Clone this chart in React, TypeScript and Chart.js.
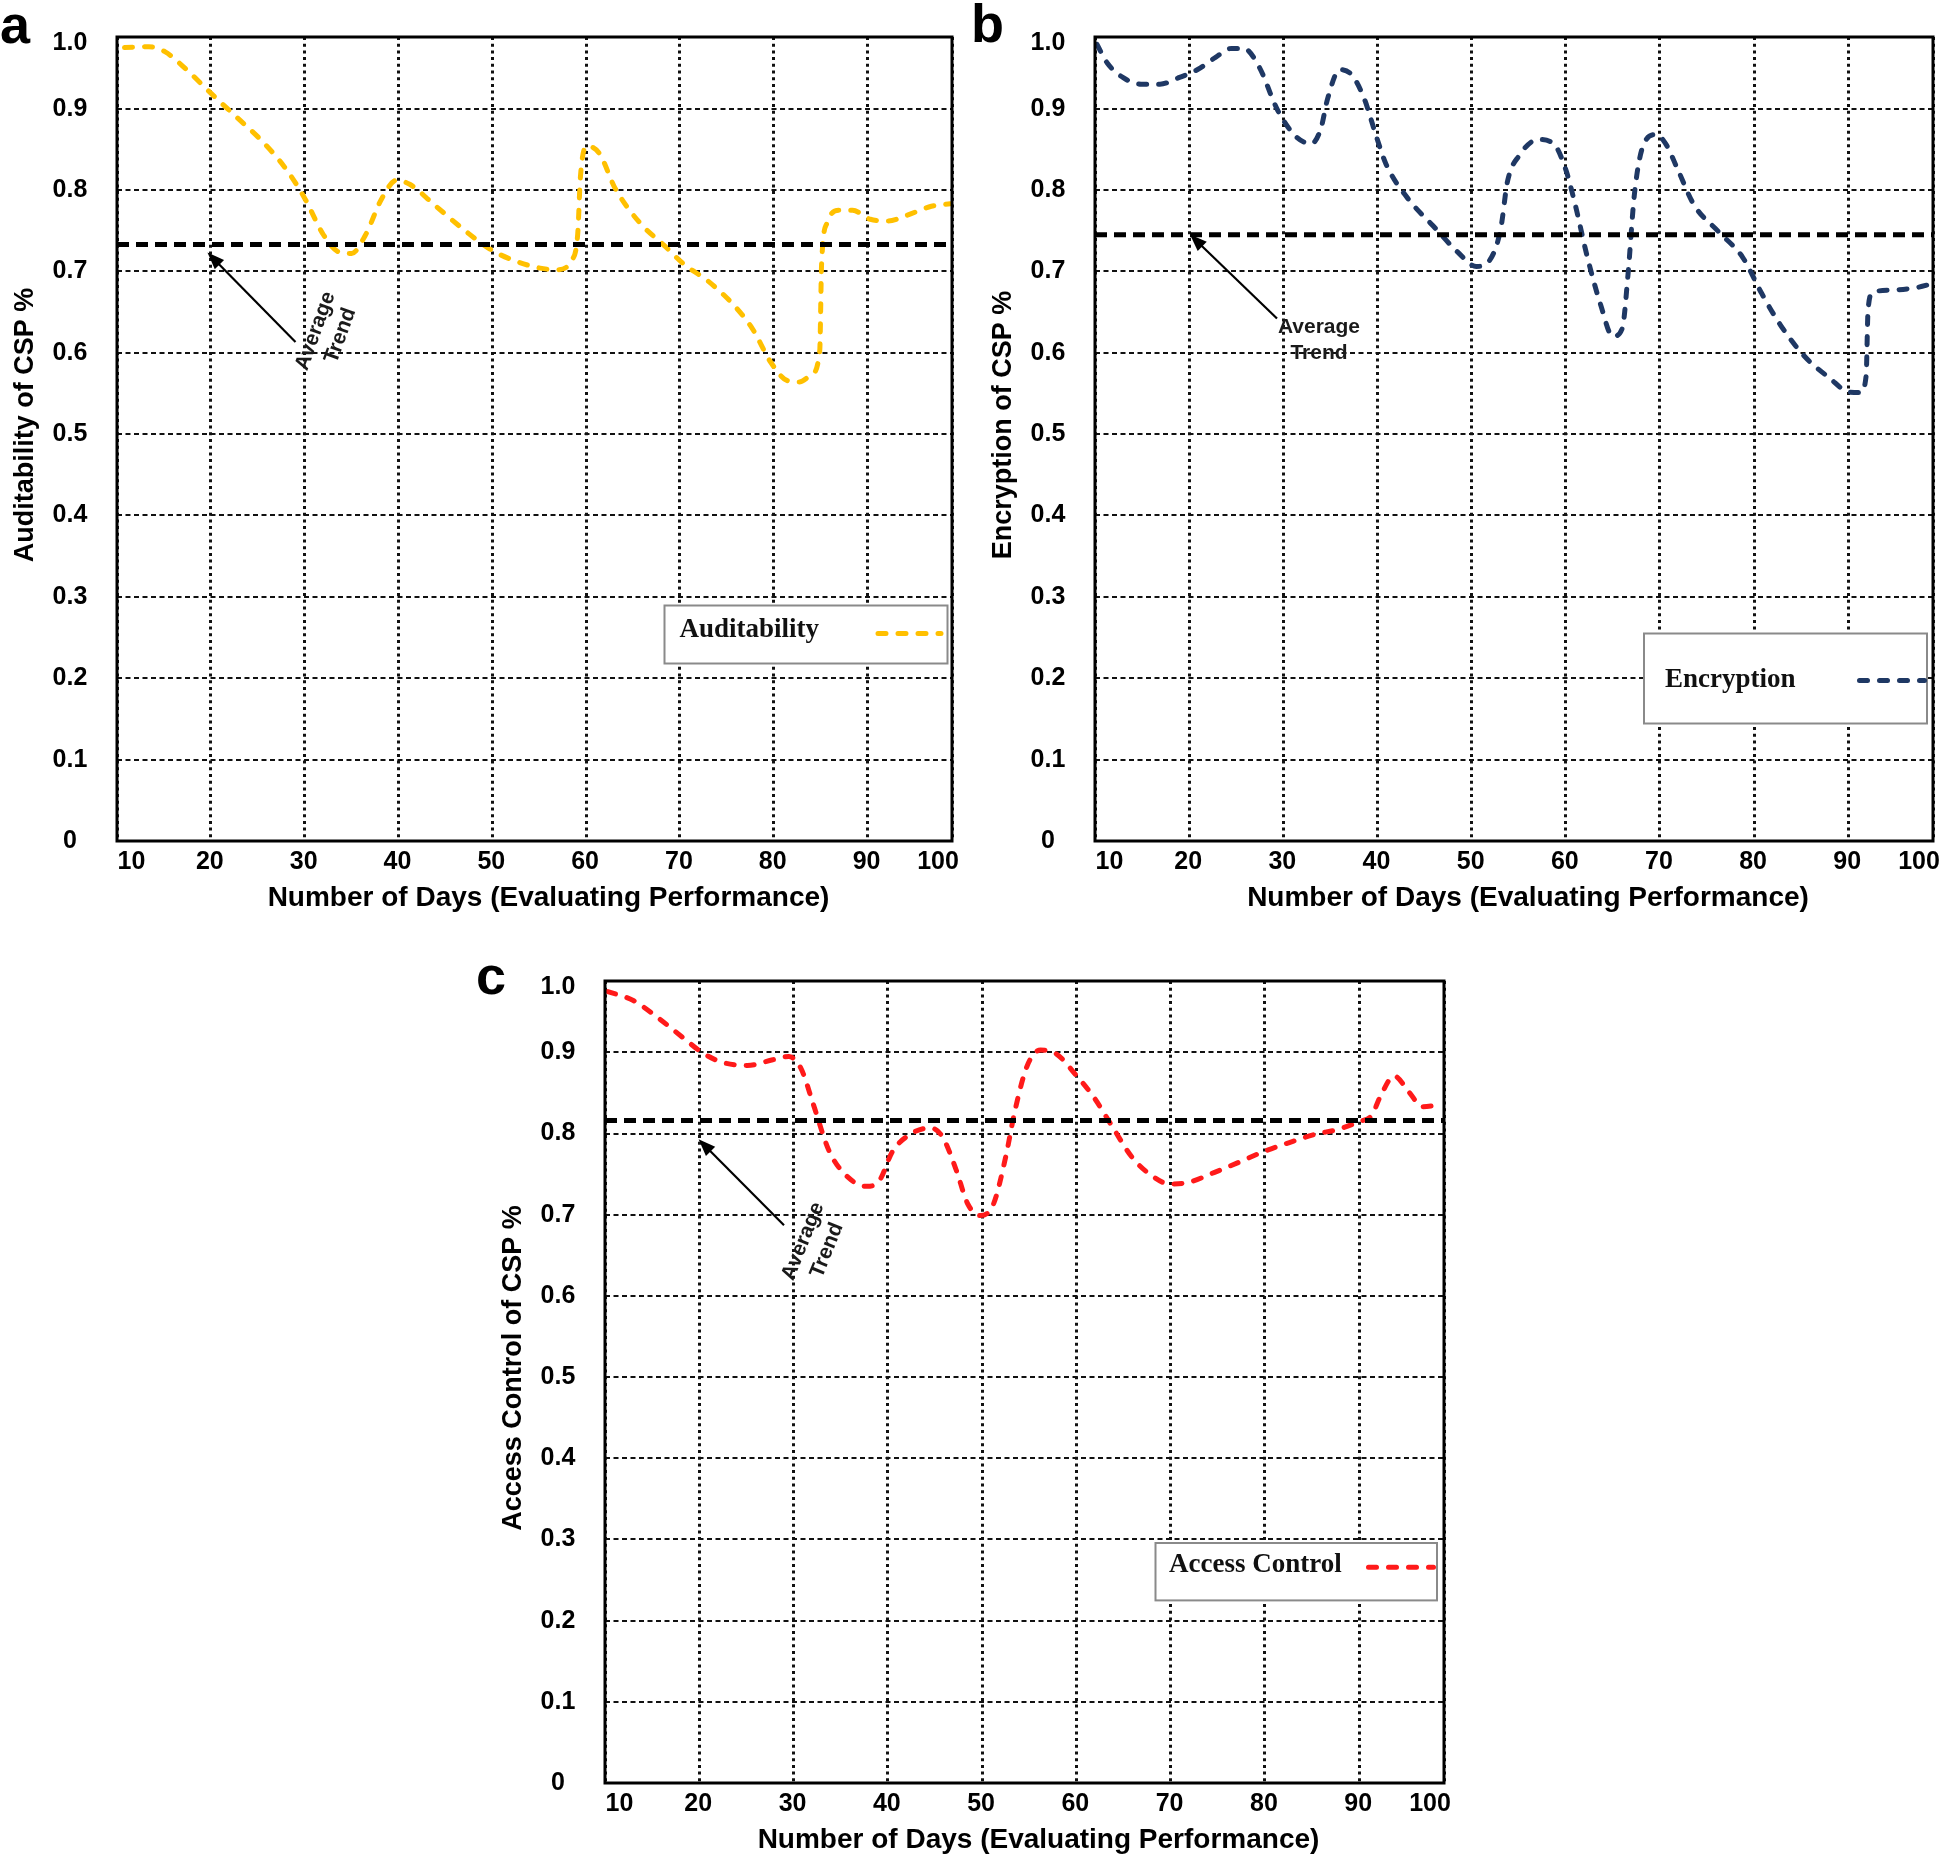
import React, { useEffect, useRef } from 'react';
import { Chart, registerables } from 'chart.js';

Chart.register(...registerables);

// ---------- axes ----------
const X_MIN = 10;
const X_TOP = 99; // right frame edge (labelled "100")
const X_TICKS = [10, 20, 30, 40, 50, 60, 70, 80, 90, X_TOP];
const X_TICK_LABELS = ['10', '20', '30', '40', '50', '60', '70', '80', '90', '100'];
const Y_MIN = 0;
const Y_TOP = 0.988; // top frame edge (labelled "1.0")
const Y_TICKS = [0, 0.1, 0.2, 0.3, 0.4, 0.5, 0.6, 0.7, 0.8, 0.9, Y_TOP];
const Y_TICK_LABELS = ['0', '0.1', '0.2', '0.3', '0.4', '0.5', '0.6', '0.7', '0.8', '0.9', '1.0'];
const X_TITLE = 'Number of Days (Evaluating Performance)';

// ---------- (a) Auditability ----------
const AUDIT_DAYS = [10.8, 13.4, 15.1, 17.4, 20, 22.7, 25.3, 28, 30, 32, 33.6, 35, 36.5, 38.2, 39.8, 41.2, 43.8, 47.1, 49.8, 52.4, 55.1, 57, 58.4, 59.1, 59.4, 60.1, 61.4, 63.1, 65.7, 68.4, 70.4, 73, 75.7, 77.7, 79.7, 81.4, 82.7, 84, 84.9, 85.1, 85.7, 87, 88.4, 90.3, 92.2, 94.2, 96.8, 98.8];
const AUDIT_VALUES = [0.975, 0.976, 0.97, 0.948, 0.919, 0.89, 0.862, 0.826, 0.79, 0.745, 0.724, 0.722, 0.745, 0.789, 0.812, 0.807, 0.782, 0.75, 0.727, 0.713, 0.704, 0.702, 0.713, 0.745, 0.817, 0.854, 0.845, 0.802, 0.76, 0.731, 0.709, 0.688, 0.659, 0.63, 0.588, 0.566, 0.564, 0.573, 0.602, 0.709, 0.76, 0.775, 0.775, 0.764, 0.762, 0.769, 0.78, 0.783];
const AUDIT_AVERAGE = 0.733;

// ---------- (b) Encryption ----------
const ENC_DAYS = [10.2, 11.3, 13, 14.9, 16.9, 18.9, 20.9, 22.8, 24.5, 25.8, 27.4, 29.4, 31.4, 33, 34, 34.7, 36, 37.3, 38.6, 39.9, 40.9, 43.2, 45.9, 48.5, 50.5, 52.1, 53.1, 53.8, 55.1, 57.1, 58.7, 60, 61, 62.3, 63.7, 65, 66, 66.6, 67.3, 68.3, 69.6, 70.6, 71.9, 73.6, 76.2, 78.8, 80.8, 82.8, 85.4, 88, 90, 91.3, 91.9, 92.1, 92.6, 94.6, 97.2, 99];
const ENC_VALUES = [0.979, 0.956, 0.938, 0.93, 0.93, 0.938, 0.948, 0.963, 0.974, 0.974, 0.952, 0.898, 0.865, 0.857, 0.876, 0.912, 0.948, 0.941, 0.912, 0.865, 0.832, 0.79, 0.756, 0.724, 0.706, 0.717, 0.753, 0.81, 0.843, 0.862, 0.857, 0.825, 0.782, 0.717, 0.659, 0.62, 0.63, 0.695, 0.796, 0.857, 0.868, 0.857, 0.825, 0.782, 0.749, 0.717, 0.673, 0.634, 0.595, 0.569, 0.552, 0.551, 0.572, 0.652, 0.674, 0.677, 0.68, 0.685];
const ENC_AVERAGE = 0.745;

// ---------- (c) Access Control ----------
const ACC_DAYS = [10.3, 13, 15.7, 18.4, 20.4, 22.4, 25.1, 27.8, 29.5, 30.8, 32.1, 33.8, 35.8, 37.8, 39.1, 40.5, 42.5, 44.5, 45.8, 47.2, 48.5, 49.8, 51.2, 52.5, 53.5, 54.8, 56.2, 57.9, 59.9, 61.9, 63.9, 65.9, 67.9, 69.9, 71.9, 74.6, 77.3, 79.9, 82.6, 85.3, 88, 90, 91.3, 92.3, 93.7, 95.3, 96.7, 98.7];
const ACC_VALUES = [0.975, 0.964, 0.942, 0.917, 0.899, 0.888, 0.884, 0.891, 0.895, 0.88, 0.836, 0.778, 0.746, 0.735, 0.742, 0.778, 0.8, 0.807, 0.796, 0.757, 0.713, 0.699, 0.713, 0.771, 0.829, 0.884, 0.903, 0.898, 0.873, 0.844, 0.807, 0.771, 0.749, 0.738, 0.74, 0.752, 0.765, 0.778, 0.789, 0.799, 0.806, 0.815, 0.822, 0.847, 0.871, 0.851, 0.833, 0.836];
const ACC_AVERAGE = 0.816;

const SANS = "'Liberation Sans', Arial, Helvetica, sans-serif";
const SERIF = "'Liberation Serif', 'Times New Roman', serif";

type Panel = {
  letter: string;
  name: string;
  yTitle: string;
  days: number[];
  values: number[];
  average: number;
  color: string;
  canvas: { left: number; top: number; width: number; height: number; padRight: number };
  legend: { box: number[]; text: number[]; sample: number[] };
  note: { tip: number[]; tail: number[]; line1: number[]; line2: number[]; rot: number };
  letterPos: { left: number; top: number };
};

const PANELS: Panel[] = [
  {
    letter: 'a', name: 'Auditability', yTitle: 'Auditability of CSP %',
    days: AUDIT_DAYS, values: AUDIT_VALUES, average: AUDIT_AVERAGE, color: '#FFC000',
    canvas: { left: 0, top: 0, width: 970, height: 921, padRight: 18 },
    legend: { box: [547.5, 568.5, 283, 58], text: [562.5, 593.5], sample: [758.5, 826.5, 596.5] },
    note: { tip: [90.5, 215.5], tail: [178.5, 305], line1: [198.5, 294], line2: [223.5, 298.5], rot: -70 },
    letterPos: { left: 0, top: -3 },
  },
  {
    letter: 'b', name: 'Encryption', yTitle: 'Encryption of CSP %',
    days: ENC_DAYS, values: ENC_VALUES, average: ENC_AVERAGE, color: '#1F3864',
    canvas: { left: 978, top: 0, width: 968, height: 921, padRight: 13 },
    legend: { box: [549, 596.5, 283, 90], text: [570, 643.5], sample: [762, 832, 643.5] },
    note: { tip: [95, 197.5], tail: [182, 281.5], line1: [224, 290.5], line2: [224, 316.5], rot: 0 },
    letterPos: { left: 971, top: -4 },
  },
  {
    letter: 'c', name: 'Access Control', yTitle: 'Access Control of CSP %',
    days: ACC_DAYS, values: ACC_VALUES, average: ACC_AVERAGE, color: '#FF1A1A',
    canvas: { left: 488, top: 944, width: 974, height: 919, padRight: 18 },
    legend: { box: [550.5, 562, 281.5, 57.4], text: [564, 584.3], sample: [761, 831, 586.3] },
    note: { tip: [93.6, 158.3], tail: [179, 244.3], line1: [198, 260.3], line2: [222, 269.3], rot: -68 },
    letterPos: { left: 476, top: 948 },
  },
];

const decorPlugin = {
  id: 'panelDecor',
  afterDatasetsDraw(chart: any, _args: any, opts: any) {
    const { ctx, chartArea: ca } = chart;
    const p: Panel = opts.panel;
    ctx.save();
    // legend box
    const [bx, by, bw, bh] = p.legend.box;
    ctx.fillStyle = '#ffffff';
    ctx.fillRect(ca.left + bx, ca.top + by, bw, bh);
    ctx.strokeStyle = '#8a8a8a';
    ctx.lineWidth = 2;
    ctx.strokeRect(ca.left + bx, ca.top + by, bw, bh);
    ctx.fillStyle = '#111';
    ctx.font = `bold 27px ${SERIF}`;
    ctx.textAlign = 'left';
    ctx.textBaseline = 'middle';
    ctx.fillText(p.name, ca.left + p.legend.text[0], ca.top + p.legend.text[1]);
    ctx.strokeStyle = p.color;
    ctx.lineWidth = 5;
    ctx.lineCap = 'round';
    ctx.setLineDash([8, 12]);
    ctx.beginPath();
    ctx.moveTo(ca.left + p.legend.sample[0] + 2.5, ca.top + p.legend.sample[2]);
    ctx.lineTo(ca.left + p.legend.sample[1] - 2.5, ca.top + p.legend.sample[2]);
    ctx.stroke();
    ctx.setLineDash([]);

    // average trend annotation
    const tx = ca.left + p.note.tip[0], ty = ca.top + p.note.tip[1];
    const sx = ca.left + p.note.tail[0], sy = ca.top + p.note.tail[1];
    const ang = Math.atan2(ty - sy, tx - sx);
    const hl = 17, hw = 6.5;
    ctx.strokeStyle = '#000';
    ctx.fillStyle = '#000';
    ctx.lineCap = 'butt';
    ctx.lineWidth = 2.2;
    ctx.beginPath();
    ctx.moveTo(sx, sy);
    ctx.lineTo(tx - Math.cos(ang) * (hl - 2), ty - Math.sin(ang) * (hl - 2));
    ctx.stroke();
    ctx.beginPath();
    ctx.moveTo(tx, ty);
    ctx.lineTo(tx - Math.cos(ang) * hl + Math.sin(ang) * hw, ty - Math.sin(ang) * hl - Math.cos(ang) * hw);
    ctx.lineTo(tx - Math.cos(ang) * hl - Math.sin(ang) * hw, ty - Math.sin(ang) * hl + Math.cos(ang) * hw);
    ctx.closePath();
    ctx.fill();
    ctx.font = `bold 21px ${SANS}`;
    ctx.textAlign = 'center';
    ctx.textBaseline = 'middle';
    ctx.fillStyle = '#1a1a1a';
    const words = ['Average', 'Trend'];
    [p.note.line1, p.note.line2].forEach((pos, i) => {
      ctx.save();
      ctx.translate(ca.left + pos[0], ca.top + pos[1]);
      ctx.rotate((p.note.rot * Math.PI) / 180);
      ctx.fillText(words[i], 0, 0);
      ctx.restore();
    });

    // frame
    ctx.strokeStyle = '#000';
    ctx.lineWidth = 3;
    ctx.strokeRect(ca.left, ca.top, ca.right - ca.left, ca.bottom - ca.top);

    // tick labels, taken from the scales' own ticks
    ctx.fillStyle = '#000';
    ctx.font = `bold 25px ${SANS}`;
    ctx.textBaseline = 'middle';
    const xs = chart.scales.x;
    const lastX = xs.ticks.length - 1;
    xs.ticks.forEach((t: any, i: number) => {
      const px = xs.getPixelForValue(t.value);
      const label = X_TICK_LABELS[i];
      if (i === 0) {
        ctx.textAlign = 'left';
        ctx.fillText(label, px + 0.5, ca.bottom + 21.5);
      } else if (i === lastX) {
        ctx.textAlign = 'center';
        ctx.fillText(label, px - 14, ca.bottom + 21.5);
      } else {
        ctx.textAlign = 'center';
        ctx.fillText(label, px - 1, ca.bottom + 21.5);
      }
    });
    const ys = chart.scales.y;
    const lastY = ys.ticks.length - 1;
    ctx.textAlign = 'center';
    ys.ticks.forEach((t: any, i: number) => {
      const py = ys.getPixelForValue(t.value);
      ctx.fillText(Y_TICK_LABELS[i], ca.left - 47, py + (i === lastY ? 6.5 : 0));
    });

    // axis titles
    ctx.textAlign = 'center';
    ctx.font = `bold 28px ${SANS}`;
    ctx.fillText(X_TITLE, (ca.left + ca.right) / 2 + 14, ca.bottom + 57);
    ctx.save();
    ctx.translate(ca.left - 91, (ca.top + ca.bottom) / 2 - 14);
    ctx.rotate(-Math.PI / 2);
    ctx.font = `bold 27px ${SANS}`;
    ctx.fillText(p.yTitle, 0, 0);
    ctx.restore();

    ctx.restore();
  },
};

function buildConfig(p: Panel): any {
  return {
    type: 'line',
    data: {
      datasets: [
        {
          label: 'Average Trend',
          data: [
            { x: X_MIN, y: p.average },
            { x: X_TOP, y: p.average },
          ],
          borderColor: '#000',
          borderWidth: 5,
          borderDash: [12, 7],
          pointRadius: 0,
          tension: 0,
        },
        {
          label: p.name,
          data: p.days.map((d, i) => ({ x: d, y: p.values[i] })),
          borderColor: p.color,
          borderWidth: 5,
          borderDash: [8, 12],
          borderCapStyle: 'round',
          pointRadius: 0,
          cubicInterpolationMode: 'monotone',
        },
      ],
    },
    options: {
      responsive: false,
      animation: false,
      events: [],
      layout: { padding: { top: 37, right: p.canvas.padRight, left: 0, bottom: 0 } },
      plugins: {
        legend: { display: false },
        tooltip: { enabled: false },
        panelDecor: { panel: p },
      },
      scales: {
        x: {
          type: 'linear',
          min: X_MIN,
          max: X_TOP,
          afterBuildTicks: (s: any) => {
            s.ticks = X_TICKS.map((v) => ({ value: v }));
          },
          afterFit: (s: any) => {
            s.height = 80;
          },
          ticks: { display: false, autoSkip: false, maxRotation: 0, padding: 0 },
          grid: { color: '#111', lineWidth: 3, drawTicks: false, borderDash: [3, 3.7] },
          border: { display: false, dash: [3, 3.7] },
          title: { display: false },
        },
        y: {
          type: 'linear',
          min: Y_MIN,
          max: Y_TOP,
          afterBuildTicks: (s: any) => {
            s.ticks = Y_TICKS.map((v) => ({ value: v }));
          },
          afterFit: (s: any) => {
            s.width = 117;
          },
          ticks: { display: false, autoSkip: false, padding: 0 },
          grid: { color: '#111', lineWidth: 2, drawTicks: false, borderDash: [5, 3.5] },
          border: { display: false, dash: [5, 3.5] },
          title: { display: false },
        },
      },
    },
    plugins: [decorPlugin],
  };
}

function PanelChart({ panel }: { panel: Panel }) {
  const ref = useRef<HTMLCanvasElement | null>(null);
  useEffect(() => {
    if (!ref.current) return;
    const chart = new Chart(ref.current, buildConfig(panel));
    return () => chart.destroy();
  }, [panel]);
  const c = panel.canvas;
  return (
    <>
      <canvas
        ref={ref}
        width={c.width}
        height={c.height}
        style={{ position: 'absolute', left: c.left, top: c.top, width: c.width, height: c.height }}
      />
      <div
        style={{
          position: 'absolute',
          left: panel.letterPos.left,
          top: panel.letterPos.top,
          font: `bold 54px ${SANS}`,
          lineHeight: '54px',
          color: '#000',
        }}
      >
        {panel.letter}
      </div>
    </>
  );
}

export default function App() {
  return (
    <div style={{ position: 'absolute', left: 0, top: 0, width: 1946, height: 1865, background: '#fff', overflow: 'hidden' }}>
      {PANELS.map((p) => (
        <PanelChart key={p.letter} panel={p} />
      ))}
    </div>
  );
}
